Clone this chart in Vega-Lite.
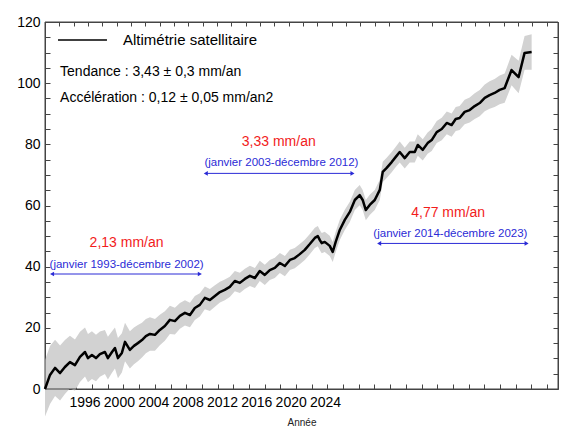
{
  "$schema": "https://vega.github.io/schema/vega-lite/v6.json",
  "width": 513,
  "height": 367,
  "autosize": "none",
  "padding": {"left": 45, "top": 22, "right": 9, "bottom": 39},
  "config": {
    "font": "Liberation Sans",
    "view": {"stroke": null},
    "axis": {"domainColor": "#444444", "tickColor": "#444444", "labelColor": "black", "grid": false, "labelFont": "Liberation Sans", "titleFont": "Liberation Sans"}
  },
  "datasets": {
    "gmsl": [
      {"annee": 1993.00, "gmsl": 0.0, "lo": -9.0, "hi": 9.5},
      {"annee": 1993.32, "gmsl": 4.6, "lo": -4.9, "hi": 14.1},
      {"annee": 1993.64, "gmsl": 6.9, "lo": -2.3, "hi": 16.1},
      {"annee": 1993.96, "gmsl": 5.2, "lo": -3.8, "hi": 14.2},
      {"annee": 1994.27, "gmsl": 7.2, "lo": -1.6, "hi": 16.0},
      {"annee": 1994.59, "gmsl": 8.8, "lo": 0.2, "hi": 17.4},
      {"annee": 1994.91, "gmsl": 7.8, "lo": -0.6, "hi": 16.2},
      {"annee": 1995.23, "gmsl": 10.5, "lo": 2.3, "hi": 18.7},
      {"annee": 1995.55, "gmsl": 12.1, "lo": 4.1, "hi": 20.1},
      {"annee": 1995.74, "gmsl": 10.1, "lo": 2.2, "hi": 18.0},
      {"annee": 1995.99, "gmsl": 11.1, "lo": 3.3, "hi": 18.9},
      {"annee": 1996.25, "gmsl": 10.1, "lo": 2.5, "hi": 17.7},
      {"annee": 1996.50, "gmsl": 11.4, "lo": 4.0, "hi": 18.8},
      {"annee": 1996.82, "gmsl": 12.1, "lo": 4.9, "hi": 19.3},
      {"annee": 1997.01, "gmsl": 10.1, "lo": 3.1, "hi": 17.1},
      {"annee": 1997.27, "gmsl": 12.1, "lo": 5.3, "hi": 18.9},
      {"annee": 1997.46, "gmsl": 13.4, "lo": 6.7, "hi": 20.1},
      {"annee": 1997.65, "gmsl": 10.1, "lo": 3.5, "hi": 16.7},
      {"annee": 1997.90, "gmsl": 11.8, "lo": 5.4, "hi": 18.2},
      {"annee": 1998.10, "gmsl": 15.4, "lo": 9.1, "hi": 21.7},
      {"annee": 1998.41, "gmsl": 12.8, "lo": 6.7, "hi": 18.9},
      {"annee": 1998.67, "gmsl": 14.1, "lo": 8.1, "hi": 20.1},
      {"annee": 1998.92, "gmsl": 15.0, "lo": 9.1, "hi": 20.9},
      {"annee": 1999.18, "gmsl": 16.0, "lo": 10.3, "hi": 21.7},
      {"annee": 1999.43, "gmsl": 17.3, "lo": 11.7, "hi": 22.9},
      {"annee": 1999.69, "gmsl": 18.0, "lo": 12.5, "hi": 23.5},
      {"annee": 2000.01, "gmsl": 17.7, "lo": 12.5, "hi": 22.9},
      {"annee": 2000.32, "gmsl": 19.3, "lo": 14.3, "hi": 24.3},
      {"annee": 2000.64, "gmsl": 20.6, "lo": 15.8, "hi": 25.4},
      {"annee": 2000.96, "gmsl": 22.6, "lo": 18.0, "hi": 27.2},
      {"annee": 2001.28, "gmsl": 22.2, "lo": 17.8, "hi": 26.6},
      {"annee": 2001.60, "gmsl": 23.9, "lo": 19.7, "hi": 28.1},
      {"annee": 2001.92, "gmsl": 24.9, "lo": 20.8, "hi": 29.0},
      {"annee": 2002.24, "gmsl": 24.2, "lo": 20.2, "hi": 28.2},
      {"annee": 2002.55, "gmsl": 26.5, "lo": 22.6, "hi": 30.4},
      {"annee": 2002.87, "gmsl": 27.5, "lo": 23.7, "hi": 31.3},
      {"annee": 2003.19, "gmsl": 29.8, "lo": 26.1, "hi": 33.5},
      {"annee": 2003.51, "gmsl": 29.1, "lo": 25.5, "hi": 32.7},
      {"annee": 2003.83, "gmsl": 30.4, "lo": 26.9, "hi": 33.9},
      {"annee": 2004.15, "gmsl": 31.7, "lo": 28.3, "hi": 35.1},
      {"annee": 2004.46, "gmsl": 32.4, "lo": 29.0, "hi": 35.8},
      {"annee": 2004.78, "gmsl": 33.4, "lo": 30.1, "hi": 36.7},
      {"annee": 2005.10, "gmsl": 35.3, "lo": 32.0, "hi": 38.6},
      {"annee": 2005.42, "gmsl": 34.7, "lo": 31.4, "hi": 38.0},
      {"annee": 2005.74, "gmsl": 36.0, "lo": 32.7, "hi": 39.3},
      {"annee": 2006.06, "gmsl": 37.0, "lo": 33.7, "hi": 40.3},
      {"annee": 2006.38, "gmsl": 36.3, "lo": 33.0, "hi": 39.6},
      {"annee": 2006.69, "gmsl": 38.6, "lo": 35.3, "hi": 41.9},
      {"annee": 2007.01, "gmsl": 37.3, "lo": 34.0, "hi": 40.6},
      {"annee": 2007.33, "gmsl": 38.9, "lo": 35.6, "hi": 42.2},
      {"annee": 2007.65, "gmsl": 39.6, "lo": 36.3, "hi": 42.9},
      {"annee": 2007.97, "gmsl": 41.2, "lo": 37.9, "hi": 44.5},
      {"annee": 2008.29, "gmsl": 40.2, "lo": 36.9, "hi": 43.5},
      {"annee": 2008.61, "gmsl": 42.2, "lo": 38.9, "hi": 45.5},
      {"annee": 2008.92, "gmsl": 42.8, "lo": 39.5, "hi": 46.1},
      {"annee": 2009.24, "gmsl": 44.1, "lo": 40.8, "hi": 47.4},
      {"annee": 2009.56, "gmsl": 45.5, "lo": 42.2, "hi": 48.8},
      {"annee": 2009.88, "gmsl": 47.4, "lo": 44.1, "hi": 50.7},
      {"annee": 2010.20, "gmsl": 49.4, "lo": 46.1, "hi": 52.7},
      {"annee": 2010.39, "gmsl": 50.0, "lo": 46.7, "hi": 53.3},
      {"annee": 2010.52, "gmsl": 48.7, "lo": 45.4, "hi": 52.0},
      {"annee": 2010.64, "gmsl": 47.7, "lo": 44.4, "hi": 51.0},
      {"annee": 2010.83, "gmsl": 48.1, "lo": 44.8, "hi": 51.4},
      {"annee": 2011.15, "gmsl": 46.8, "lo": 43.5, "hi": 50.1},
      {"annee": 2011.34, "gmsl": 44.8, "lo": 41.5, "hi": 48.1},
      {"annee": 2011.53, "gmsl": 48.1, "lo": 44.8, "hi": 51.4},
      {"annee": 2011.79, "gmsl": 52.0, "lo": 48.7, "hi": 55.3},
      {"annee": 2012.11, "gmsl": 55.3, "lo": 52.0, "hi": 58.6},
      {"annee": 2012.43, "gmsl": 57.9, "lo": 54.6, "hi": 61.2},
      {"annee": 2012.75, "gmsl": 61.8, "lo": 58.5, "hi": 65.1},
      {"annee": 2013.06, "gmsl": 63.4, "lo": 60.1, "hi": 66.7},
      {"annee": 2013.25, "gmsl": 61.8, "lo": 58.5, "hi": 65.1},
      {"annee": 2013.45, "gmsl": 58.5, "lo": 55.2, "hi": 61.8},
      {"annee": 2013.70, "gmsl": 60.2, "lo": 56.9, "hi": 63.5},
      {"annee": 2014.02, "gmsl": 61.8, "lo": 58.5, "hi": 65.1},
      {"annee": 2014.34, "gmsl": 65.1, "lo": 61.8, "hi": 68.4},
      {"annee": 2014.53, "gmsl": 71.0, "lo": 67.7, "hi": 74.3},
      {"annee": 2014.78, "gmsl": 72.3, "lo": 69.0, "hi": 75.6},
      {"annee": 2015.10, "gmsl": 74.2, "lo": 70.9, "hi": 77.5},
      {"annee": 2015.36, "gmsl": 75.9, "lo": 72.6, "hi": 79.2},
      {"annee": 2015.61, "gmsl": 77.5, "lo": 74.1, "hi": 80.9},
      {"annee": 2015.93, "gmsl": 75.5, "lo": 72.1, "hi": 78.9},
      {"annee": 2016.25, "gmsl": 77.5, "lo": 74.1, "hi": 80.9},
      {"annee": 2016.57, "gmsl": 77.5, "lo": 74.1, "hi": 80.9},
      {"annee": 2016.76, "gmsl": 79.8, "lo": 76.3, "hi": 83.3},
      {"annee": 2017.08, "gmsl": 78.2, "lo": 74.7, "hi": 81.7},
      {"annee": 2017.39, "gmsl": 80.4, "lo": 76.9, "hi": 83.9},
      {"annee": 2017.65, "gmsl": 81.4, "lo": 77.8, "hi": 85.0},
      {"annee": 2017.97, "gmsl": 84.0, "lo": 80.4, "hi": 87.6},
      {"annee": 2018.29, "gmsl": 85.0, "lo": 81.3, "hi": 88.7},
      {"annee": 2018.61, "gmsl": 87.0, "lo": 83.3, "hi": 90.7},
      {"annee": 2018.92, "gmsl": 86.3, "lo": 82.5, "hi": 90.1},
      {"annee": 2019.18, "gmsl": 88.3, "lo": 84.4, "hi": 92.2},
      {"annee": 2019.43, "gmsl": 88.6, "lo": 84.7, "hi": 92.5},
      {"annee": 2019.75, "gmsl": 90.6, "lo": 86.6, "hi": 94.6},
      {"annee": 2020.07, "gmsl": 91.2, "lo": 87.1, "hi": 95.3},
      {"annee": 2020.39, "gmsl": 92.5, "lo": 88.3, "hi": 96.7},
      {"annee": 2020.71, "gmsl": 93.5, "lo": 89.2, "hi": 97.8},
      {"annee": 2021.03, "gmsl": 95.2, "lo": 90.8, "hi": 99.6},
      {"annee": 2021.34, "gmsl": 96.1, "lo": 91.6, "hi": 100.6},
      {"annee": 2021.66, "gmsl": 96.8, "lo": 92.2, "hi": 101.4},
      {"annee": 2021.98, "gmsl": 97.8, "lo": 93.1, "hi": 102.5},
      {"annee": 2022.30, "gmsl": 98.4, "lo": 93.6, "hi": 103.2},
      {"annee": 2022.74, "gmsl": 104.3, "lo": 99.3, "hi": 109.3},
      {"annee": 2023.19, "gmsl": 102.0, "lo": 96.7, "hi": 107.3},
      {"annee": 2023.57, "gmsl": 109.9, "lo": 104.4, "hi": 115.4},
      {"annee": 2024.02, "gmsl": 110.2, "lo": 104.4, "hi": 116.0}
    ],
    "stats": [
      {"x": 1997.97, "y": 114.1, "texte": "Altimétrie satellitaire", "taille": 15},
      {"x": 1993.96, "y": 103.8, "texte": "Tendance : 3,43 ± 0,3 mm/an", "taille": 14},
      {"x": 1993.96, "y": 95.3, "texte": "Accélération : 0,12 ± 0,05 mm/an2", "taille": 14}
    ],
    "legende": [{"debut": 1993.83, "fin": 1996.95, "y": 114.1}],
    "taux": [
      {"x": 1998.2, "y": 47.7, "texte": "2,13 mm/an"},
      {"x": 2007.9, "y": 80.9, "texte": "3,33 mm/an"},
      {"x": 2018.7, "y": 57.4, "texte": "4,77 mm/an"}
    ],
    "periodes": [
      {"x": 1998.2, "y": 40.5, "texte": "(janvier 1993-décembre 2002)"},
      {"x": 2008.07, "y": 73.8, "texte": "(janvier 2003-décembre 2012)"},
      {"x": 2018.84, "y": 50.6, "texte": "(janvier 2014-décembre 2023)"}
    ],
    "fleches": [
      {"debut": 1993.45, "fin": 2002.87, "y": 37.6},
      {"debut": 2003.25, "fin": 2012.6, "y": 70.5},
      {"debut": 2014.3, "fin": 2023.7, "y": 47.6}
    ],
    "cadre": [{"x1": 1993, "x2": 2025.7, "y1": 0, "y2": 120}]
  },
  "layer": [
    {
      "data": {"name": "gmsl"},
      "mark": {"type": "point", "opacity": 0},
      "encoding": {
        "x": {"field": "annee", "type": "quantitative",
          "scale": {"domain": [1993, 2028.8], "nice": false, "zero": false},
          "axis": {"orient": "top", "tickCount": 36, "labels": false, "tickSize": -4, "title": null, "domainColor": "#444444", "tickColor": "#444444"}},
        "y": {"field": "gmsl", "type": "quantitative",
          "scale": {"domain": [0, 120], "nice": false, "zero": false},
          "axis": {"orient": "right", "tickCount": 24, "labels": false, "tickSize": -5, "title": null, "domainColor": "#444444", "tickColor": "#444444"}}
      }
    },
    {
      "data": {"name": "gmsl"},
      "mark": {"type": "area", "color": "#d2d2d2", "opacity": 1},
      "encoding": {
        "x": {"field": "annee", "type": "quantitative",
          "scale": {"domain": [1993, 2025.7], "nice": false, "zero": false},
          "axis": {"orient": "bottom",
            "values": [1994,1995,1995.52,1996,1997,1997.71,1998,1999,1999.9,2000,2001,2002,2002.09,2003,2004,2004.28,2005,2006,2006.47,2007,2008,2008.66,2009,2010,2010.85,2011,2012,2013,2014,2015,2016,2017,2018,2019,2020,2021,2022,2023,2024,2025],
            "labelExpr": "datum.value % 1 === 0 ? '' : {'1995.52':'1996','1997.71':'2000','1999.9':'2004','2002.09':'2008','2004.28':'2012','2006.47':'2016','2008.66':'2020','2010.85':'2024'}[datum.value + '']",
            "tickOpacity": {"condition": {"test": "datum.value % 1 !== 0", "value": 0}, "value": 1},
            "labelFlush": false, "labelOverlap": false, "labelFontSize": 14, "labelPadding": 11,
            "tickSize": -5, "title": "Année", "titleFontSize": 10, "titleFontWeight": "normal", "titlePadding": 8, "titleColor": "#222222"}},
        "y": {"field": "lo", "type": "quantitative",
          "scale": {"domain": [0, 120], "nice": false, "zero": false},
          "axis": {"orient": "left", "values": [0,5,10,15,20,25,30,35,40,45,50,55,60,65,70,75,80,85,90,95,100,105,110,115,120],
            "labelExpr": "datum.value % 20 === 0 ? datum.label : ''", "tickSize": -5, "labelFontSize": 14, "labelPadding": 10,
            "title": null}},
        "y2": {"field": "hi"}
      }
    },
    {
      "data": {"name": "cadre"},
      "mark": {"type": "rect", "fill": null, "stroke": "#444444", "strokeWidth": 1},
      "encoding": {
        "x": {"field": "x1", "type": "quantitative", "scale": {"domain": [1993, 2025.7], "nice": false, "zero": false}, "axis": null},
        "x2": {"field": "x2"},
        "y": {"field": "y1", "type": "quantitative", "scale": {"domain": [0, 120], "nice": false, "zero": false}, "axis": null},
        "y2": {"field": "y2"}
      }
    },
    {
      "data": {"name": "gmsl"},
      "mark": {"type": "line", "strokeWidth": 2.5, "strokeJoin": "round", "color": "black"},
      "encoding": {
        "x": {"field": "annee", "type": "quantitative", "scale": {"domain": [1993, 2025.7], "nice": false, "zero": false}, "axis": null},
        "y": {"field": "gmsl", "type": "quantitative", "scale": {"domain": [0, 120], "nice": false, "zero": false}, "axis": null}
      }
    },
    {
      "data": {"name": "legende"},
      "mark": {"type": "rule", "color": "black", "strokeWidth": 1.5},
      "encoding": {
        "x": {"field": "debut", "type": "quantitative", "scale": {"domain": [1993, 2025.7], "nice": false, "zero": false}, "axis": null},
        "x2": {"field": "fin"},
        "y": {"field": "y", "type": "quantitative", "scale": {"domain": [0, 120], "nice": false, "zero": false}, "axis": null}
      }
    },
    {
      "data": {"name": "stats"},
      "mark": {"type": "text", "align": "left", "baseline": "middle", "color": "black"},
      "encoding": {
        "x": {"field": "x", "type": "quantitative", "scale": {"domain": [1993, 2025.7], "nice": false, "zero": false}, "axis": null},
        "y": {"field": "y", "type": "quantitative", "scale": {"domain": [0, 120], "nice": false, "zero": false}, "axis": null},
        "size": {"field": "taille", "type": "quantitative", "scale": null, "legend": null},
        "text": {"field": "texte"}
      }
    },
    {
      "data": {"name": "taux"},
      "mark": {"type": "text", "align": "center", "baseline": "middle", "fontSize": 14, "color": "#f21c1c"},
      "encoding": {
        "x": {"field": "x", "type": "quantitative", "scale": {"domain": [1993, 2025.7], "nice": false, "zero": false}, "axis": null},
        "y": {"field": "y", "type": "quantitative", "scale": {"domain": [0, 120], "nice": false, "zero": false}, "axis": null},
        "text": {"field": "texte"}
      }
    },
    {
      "data": {"name": "periodes"},
      "mark": {"type": "text", "align": "center", "baseline": "middle", "fontSize": 11.5, "color": "#2b2bd6"},
      "encoding": {
        "x": {"field": "x", "type": "quantitative", "scale": {"domain": [1993, 2025.7], "nice": false, "zero": false}, "axis": null},
        "y": {"field": "y", "type": "quantitative", "scale": {"domain": [0, 120], "nice": false, "zero": false}, "axis": null},
        "text": {"field": "texte"}
      }
    },
    {
      "data": {"name": "fleches"},
      "mark": {"type": "rule", "color": "#2b2bd6", "strokeWidth": 1},
      "encoding": {
        "x": {"field": "debut", "type": "quantitative", "scale": {"domain": [1993, 2025.7], "nice": false, "zero": false}, "axis": null},
        "x2": {"field": "fin"},
        "y": {"field": "y", "type": "quantitative", "scale": {"domain": [0, 120], "nice": false, "zero": false}, "axis": null}
      }
    },
    {
      "data": {"name": "fleches"},
      "mark": {"type": "point", "shape": "triangle-left", "filled": true, "size": 22, "color": "#2b2bd6", "opacity": 1},
      "encoding": {
        "x": {"field": "debut", "type": "quantitative", "scale": {"domain": [1993, 2025.7], "nice": false, "zero": false}, "axis": null},
        "y": {"field": "y", "type": "quantitative", "scale": {"domain": [0, 120], "nice": false, "zero": false}, "axis": null}
      }
    },
    {
      "data": {"name": "fleches"},
      "mark": {"type": "point", "shape": "triangle-right", "filled": true, "size": 22, "color": "#2b2bd6", "opacity": 1},
      "encoding": {
        "x": {"field": "fin", "type": "quantitative", "scale": {"domain": [1993, 2025.7], "nice": false, "zero": false}, "axis": null},
        "y": {"field": "y", "type": "quantitative", "scale": {"domain": [0, 120], "nice": false, "zero": false}, "axis": null}
      }
    }
  ],
  "resolve": {"scale": {"x": "independent", "y": "independent"}}
}
